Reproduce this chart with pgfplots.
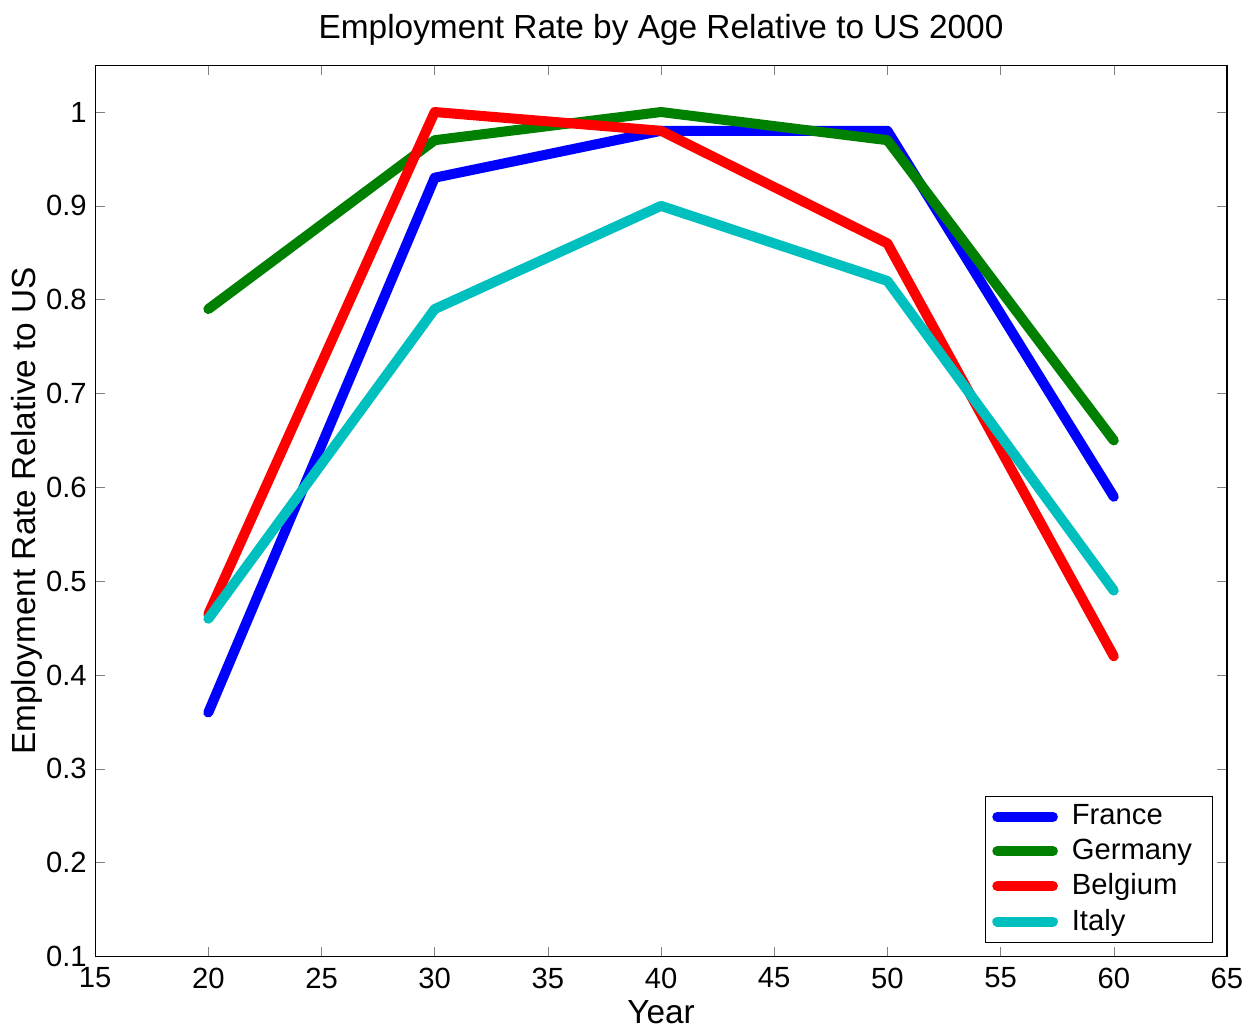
\documentclass[border=0pt]{standalone}
\usepackage{fontspec}
\setmainfont{Liberation Sans}
\usepackage{pgfplots}
\pgfplotsset{compat=1.18}
\definecolor{mblue}{rgb}{0,0,1}
\definecolor{mgreen}{rgb}{0,0.5,0}
\definecolor{mred}{rgb}{1,0,0}
\definecolor{mcyan}{rgb}{0,0.75,0.75}
\begin{document}
\begin{tikzpicture}
\path[use as bounding box] (-34.2pt,-28.1pt) rectangle (415.8pt,343.8pt);
\begin{axis}[
  scale only axis, width=406.8pt, height=320.4pt,
  at={(0,0)}, anchor=south west,
  xmin=15, xmax=65, ymin=0.1, ymax=1.05,
  xtick={15,20,...,65},
  ytick={0.1,0.2,...,1.0},
  yticklabels={0.1,0.2,0.3,0.4,0.5,0.6,0.7,0.8,0.9,1},
  tick align=inside, tick pos=both, major tick length=3.6pt,
  /pgf/number format/assume math mode=true,
  tick label style={font=\fontsize{10.5}{12}\selectfont},
  xticklabel style={yshift=-0.5pt},
  yticklabel style={xshift=0.5pt},
  title={Employment Rate by Age Relative to US 2000},
  title style={font=\fontsize{12}{14}\selectfont, yshift=-2.5pt},
  xlabel={Year}, ylabel={Employment Rate Relative to US},
  label style={font=\fontsize{12}{14}\selectfont},
  xlabel style={yshift=2.5pt},
  ylabel style={yshift=-5.6pt},
  legend style={at={(0.988,0.015)}, anchor=south east, font=\fontsize{10.5}{12}\selectfont, draw=black, line width=0.4pt, row sep=-0.4pt, inner xsep=2.5pt, inner ysep=1pt, nodes={inner xsep=5pt}},
  legend cell align=left,
  legend image code/.code={\draw[#1, line cap=round] (0pt,0pt) -- (20pt,0pt);},
  every axis plot/.append style={line width=3.6pt, line join=round, line cap=round},
  axis line style={line width=0.4pt},
]
\addplot[mblue] coordinates {(20,0.36) (30,0.93) (40,0.98) (50,0.98) (60,0.59)};
\addlegendentry{France}
\addplot[mgreen] coordinates {(20,0.79) (30,0.97) (40,1.00) (50,0.97) (60,0.65)};
\addlegendentry{Germany}
\addplot[mred] coordinates {(20,0.465) (30,1.00) (40,0.98) (50,0.86) (60,0.42)};
\addlegendentry{Belgium}
\addplot[mcyan] coordinates {(20,0.46) (30,0.79) (40,0.90) (50,0.82) (60,0.49)};
\addlegendentry{Italy}
\end{axis}
\end{tikzpicture}
\end{document}
